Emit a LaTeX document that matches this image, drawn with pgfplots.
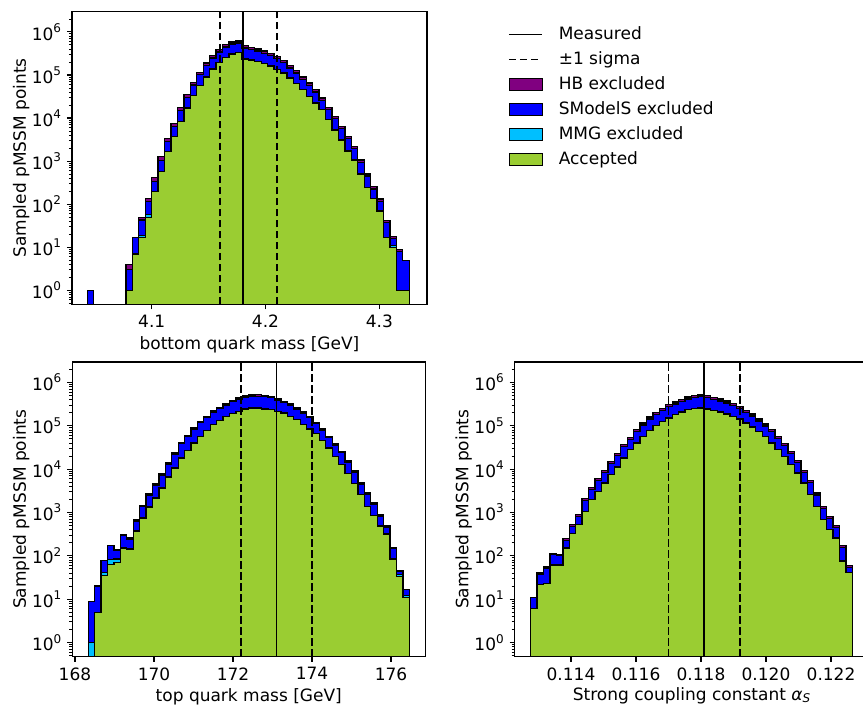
\documentclass[border=0pt]{standalone}
\usepackage{fontspec}
\setmainfont{DejaVu Sans}
\usepackage{pgfplots}
\usepackage{pgfplotstable}
\pgfplotsset{compat=1.18}

\definecolor{hbcol}{RGB}{128,0,128}
\definecolor{smcol}{RGB}{0,0,255}
\definecolor{mmgcol}{RGB}{0,191,255}
\definecolor{acccol}{RGB}{154,205,50}

\newcommand{\pw}[1]{10\raisebox{0.45em}{\fontsize{12}{14}\selectfont #1}}

% Histogram counts per bin (left bin edge x), split by category:
% G = accepted, M = MMG excluded, S = SModelS excluded, H = HB excluded.
% The last row repeats the final bin at its right edge.
\pgfplotstableread{
x G M S H
4.04340 0 0 1 0
4.04906 0 0 1 0
}\bottomlow

\pgfplotstableread{
x G M S H
4.07735 1 0 2 1
4.08301 7 0 10 0
4.08866 17 2 24 6
4.09432 49 9 56 22
4.09998 194 2 136 89
4.10564 568 4 452 246
4.11130 1660 8 1172 560
4.11695 3710 15 2615 1260
4.12261 8280 30 6390 2600
4.12827 17000 60 12940 4700
4.13393 32900 120 25280 8800
4.13959 56200 200 44600 14000
4.14524 89600 300 74100 26000
4.15090 138000 500 109500 33000
4.15656 196000 700 145300 45000
4.16222 256000 900 191100 58000
4.16788 307000 1000 217000 60000
4.17353 335000 1100 218900 62000
4.17919 235000 800 189200 55000
4.18485 223000 800 166200 48000
4.19051 203000 700 155300 43000
4.19617 183000 600 137400 40000
4.20182 161000 500 117500 34000
4.20748 133000 400 106600 30000
4.21314 111000 350 82650 24000
4.21880 84900 300 60800 18000
4.22446 62500 200 49300 14000
4.23011 45400 150 34150 9900
4.23577 31600 100 26100 7200
4.24143 22200 70 18130 5000
4.24709 15500 50 10250 3200
4.25275 9080 30 6790 2000
4.25840 5310 20 4270 1200
4.26406 3100 10 2530 700
4.26972 1720 6 1574 410
4.27538 1060 4 866 240
4.28104 502 3 435 120
4.28669 241 2 204 55
4.29235 136 1 89 28
4.29801 69 1 47 14
4.30367 17 0 20 4
4.30933 10 1 5 2
4.31498 1 0 7 1
4.32064 1 0 4 0
4.32630 1 0 4 0
}\bottomtab

\pgfplotstableread{
x G M S H
168.337 0 1 8 0
168.500 5 0 15 0
168.662 35 6 36 0
168.825 63 18 90 3
168.987 69 16 52 2
169.150 152 3 140 14
169.312 144 2 100 12
169.475 367 4 265 46
169.637 746 6 608 100
169.800 1320 10 1150 190
169.962 2140 15 2125 320
170.125 3670 25 3465 540
170.287 6600 40 6200 960
170.450 10600 60 11200 1640
170.612 18000 100 20200 2900
170.775 27000 150 28450 4200
170.937 40000 200 42100 6200
171.100 56600 300 60300 8800
171.262 76700 400 75400 11500
171.425 105000 500 101000 15500
171.587 132000 600 112900 18500
171.750 164000 700 133800 22500
171.912 189000 800 166400 26800
172.075 214000 900 189600 30500
172.237 243000 1000 213500 34500
172.400 256000 1000 225000 36000
172.563 256000 1000 224000 36000
172.725 243000 1000 220000 35000
172.888 234000 1000 205000 33000
173.050 214000 900 175100 29000
173.213 196000 800 140800 25400
173.375 164000 700 129200 22100
173.538 137000 600 100400 18000
173.700 105000 500 87000 14500
173.863 84000 400 68100 11500
174.025 65400 300 45000 8300
174.188 45800 200 32100 5900
174.350 30600 150 21850 4000
174.513 19600 100 15450 2650
174.675 12600 70 11130 1800
174.838 7800 50 6660 1090
175.000 4600 30 3930 640
175.163 2570 20 1870 340
175.325 1380 15 1225 200
175.488 844 20 680 116
175.650 479 15 334 62
175.813 308 15 139 35
175.975 82 3 61 11
176.138 34 3 7 2
176.300 11 1 5 0
176.463 11 1 5 0
}\toptab

\pgfplotstableread{
x G M S H
0.112760 6 0 5 0
0.112958 22 0 16 2
0.113156 23 0 28 4
0.113354 60 1 45 6
0.113552 60 1 40 5
0.113750 152 1 76 20
0.113947 324 2 157 40
0.114145 523 3 284 80
0.114343 1060 6 814 200
0.114541 1970 10 1450 370
0.114739 3060 15 2325 600
0.114937 4790 25 3485 900
0.115135 7430 40 6030 1500
0.115333 11200 60 9140 2200
0.115531 18000 100 14900 3700
0.115729 28000 150 20150 5400
0.115926 40000 200 32800 8000
0.116124 56600 300 46600 11500
0.116322 78000 400 63600 16000
0.116520 102000 500 79500 20000
0.116718 126000 600 94400 25000
0.116916 150000 700 123300 31000
0.117114 179000 800 137200 35000
0.117312 207000 900 150100 40000
0.117510 234000 1000 177000 46000
0.117708 250000 1000 203000 51000
0.117905 255000 1000 208000 51000
0.118103 243000 1000 199000 49000
0.118301 222000 900 181100 45000
0.118499 207000 900 163100 41000
0.118697 186000 800 147200 37000
0.118895 164000 700 124300 32000
0.119093 143000 600 107400 28000
0.119291 115000 500 87000 22500
0.119489 93300 400 73700 18600
0.119687 74000 300 54400 14300
0.119884 56600 250 42150 11000
0.120082 40000 200 32700 8100
0.120280 28000 150 22750 5700
0.120478 19600 100 14860 3840
0.120676 12600 70 10370 2560
0.120874 8130 40 6050 1580
0.121072 4790 25 3582 933
0.121270 2570 15 2284 541
0.121468 1380 10 1148 282
0.121666 682 5 555 138
0.121863 400 3 329 81
0.122061 258 2 195 50
0.122259 75 1 81 17
0.122457 42 0 12 5
0.122655 42 0 12 5
}\alphatab

\pgfplotsset{
  histlayer/.style={const plot, draw=black, line width=1.3pt, fill=#1, forget plot},
  vline/.style={black, line width=1.6pt, forget plot},
  lineleg/.style={legend image code/.code={\draw[##1] (0pt,0pt) -- (33pt,0pt);}},
  patchleg/.style={legend image code/.code={\draw[##1] (0pt,-6pt) rectangle (33pt,6pt);}},
}

% Four stacked layers, drawn from the cumulative total downwards
\newcommand{\stackhist}[1]{%
  \addplot[histlayer=hbcol] table[x=x, y expr=\thisrow{G}+\thisrow{M}+\thisrow{S}+\thisrow{H}]{#1} \closedcycle;
  \addplot[histlayer=smcol] table[x=x, y expr=\thisrow{G}+\thisrow{M}+\thisrow{S}]{#1} \closedcycle;
  \addplot[histlayer=mmgcol] table[x=x, y expr=\thisrow{G}+\thisrow{M}]{#1} \closedcycle;
  \addplot[histlayer=acccol] table[x=x, y=G]{#1} \closedcycle;
}
\newcommand{\stackhisttop}[1]{%
  \addplot[histlayer=hbcol] table[x=x, y expr=\thisrow{G}+\thisrow{M}+\thisrow{S}+\thisrow{H}]{#1} \closedcycle;
  \addplot[histlayer=smcol] table[x=x, y expr=\thisrow{G}+\thisrow{M}+\thisrow{S}]{#1} \closedcycle;
}

\begin{document}
\fontsize{17}{20}\selectfont
\begin{tikzpicture}
\useasboundingbox (0,0) rectangle (863pt,705pt);

% bottom quark mass
\begin{axis}[
  scale only axis, anchor=south west,
  at={(72pt,400.7pt)}, width=355pt, height=292.6pt,
  ymode=log, log origin y=infty,
  ymin=0.472, ymax=2.95e6,
  ytick={1,10,100,1000,10000,100000,1000000},
  yticklabels={\pw{0},\pw{1},\pw{2},\pw{3},\pw{4},\pw{5},\pw{6}},
  minor ytick={0.5,0.6,0.7,0.8,0.9,2,3,4,5,6,7,8,9,20,30,40,50,60,70,80,90,
    200,300,400,500,600,700,800,900,2000,3000,4000,5000,6000,7000,8000,9000,
    20000,30000,40000,50000,60000,70000,80000,90000,
    200000,300000,400000,500000,600000,700000,800000,900000,2000000},
  tick align=outside, tick pos=left,
  major tick length=5pt, minor tick length=3pt,
  major tick style={black, line width=1.1pt},
  minor tick style={black, line width=0.8pt},
  axis line style={black, line width=1.1pt},
  xmin=4.02996, xmax=4.3419,
  xtick={4.1,4.2,4.3},
  xticklabels={4.1,4.2,4.3},
  xlabel={bottom quark mass [GeV]},
  ylabel={Sampled pMSSM points},
  xlabel shift=-3pt, ylabel shift=-9pt,
  legend cell align=left,
  legend style={at={(1.2197,0.958)}, anchor=north west, draw=none, fill=none,
    row sep=8pt, column sep=16pt,
    nodes={inner sep=0pt, text height=13pt, text depth=4pt}},
]
\addlegendimage{lineleg, black, line width=1.6pt}
\addlegendentry{Measured}
\addlegendimage{lineleg, black, line width=1.6pt, dash pattern=on 7.5pt off 3.5pt}
\addlegendentry{±1 sigma}
\addlegendimage{patchleg, draw=black, line width=0.9pt, fill=hbcol}
\addlegendentry{HB excluded}
\addlegendimage{patchleg, draw=black, line width=0.9pt, fill=smcol}
\addlegendentry{SModelS excluded}
\addlegendimage{patchleg, draw=black, line width=0.9pt, fill=mmgcol}
\addlegendentry{MMG excluded}
\addlegendimage{patchleg, draw=black, line width=0.9pt, fill=acccol}
\addlegendentry{Accepted}
\stackhisttop{\bottomlow}
\stackhist{\bottomtab}
\addplot[vline] coordinates {(4.18,0.472) (4.18,2.95e6)};
\addplot[vline, dash pattern=on 7.5pt off 3.5pt] coordinates {(4.16,0.472) (4.16,2.95e6)};
\addplot[vline, dash pattern=on 7.5pt off 3.5pt] coordinates {(4.21,0.472) (4.21,2.95e6)};
\end{axis}

% top quark mass
\begin{axis}[
  scale only axis, anchor=south west,
  at={(72.2pt,48.3pt)}, width=353.2pt, height=294.7pt,
  ymode=log, log origin y=infty,
  ymin=0.472, ymax=2.95e6,
  ytick={1,10,100,1000,10000,100000,1000000},
  yticklabels={\pw{0},\pw{1},\pw{2},\pw{3},\pw{4},\pw{5},\pw{6}},
  minor ytick={0.5,0.6,0.7,0.8,0.9,2,3,4,5,6,7,8,9,20,30,40,50,60,70,80,90,
    200,300,400,500,600,700,800,900,2000,3000,4000,5000,6000,7000,8000,9000,
    20000,30000,40000,50000,60000,70000,80000,90000,
    200000,300000,400000,500000,600000,700000,800000,900000,2000000},
  tick align=outside, tick pos=left,
  major tick length=5pt, minor tick length=3pt,
  major tick style={black, line width=1.1pt},
  minor tick style={black, line width=0.8pt},
  axis line style={black, line width=1.1pt},
  xmin=167.93, xmax=176.87,
  xtick={168,170,172,174,176},
  xticklabels={168,170,172,174,176},
  xlabel={top quark mass [GeV]},
  ylabel={Sampled pMSSM points},
  xlabel shift=-3pt, ylabel shift=-9pt,
]
\stackhist{\toptab}
\addplot[vline] coordinates {(173.1,0.472) (173.1,2.95e6)};
\addplot[vline, dash pattern=on 7.5pt off 3.5pt] coordinates {(172.2,0.472) (172.2,2.95e6)};
\addplot[vline, dash pattern=on 7.5pt off 3.5pt] coordinates {(174.0,0.472) (174.0,2.95e6)};
\end{axis}

% strong coupling constant
\begin{axis}[
  scale only axis, anchor=south west,
  at={(514.6pt,48.3pt)}, width=353.8pt, height=294.7pt,
  ymode=log, log origin y=infty,
  ymin=0.472, ymax=2.95e6,
  ytick={1,10,100,1000,10000,100000,1000000},
  yticklabels={\pw{0},\pw{1},\pw{2},\pw{3},\pw{4},\pw{5},\pw{6}},
  minor ytick={0.5,0.6,0.7,0.8,0.9,2,3,4,5,6,7,8,9,20,30,40,50,60,70,80,90,
    200,300,400,500,600,700,800,900,2000,3000,4000,5000,6000,7000,8000,9000,
    20000,30000,40000,50000,60000,70000,80000,90000,
    200000,300000,400000,500000,600000,700000,800000,900000,2000000},
  tick align=outside, tick pos=left,
  major tick length=5pt, minor tick length=3pt,
  major tick style={black, line width=1.1pt},
  minor tick style={black, line width=0.8pt},
  axis line style={black, line width=1.1pt},
  xmin=0.112265, xmax=0.12315,
  xtick={0.114,0.116,0.118,0.120,0.122},
  xticklabels={0.114,0.116,0.118,0.120,0.122},
  xlabel={Strong coupling constant \textit{α}\raisebox{-0.12em}{\fontsize{12}{14}\selectfont\textit{S}}},
  ylabel={Sampled pMSSM points},
  xlabel shift=-4.5pt, ylabel shift=-9pt,
]
\stackhist{\alphatab}
\addplot[vline] coordinates {(0.1181,0.472) (0.1181,2.95e6)};
\addplot[vline, dash pattern=on 7.5pt off 3.5pt] coordinates {(0.117,0.472) (0.117,2.95e6)};
\addplot[vline, dash pattern=on 7.5pt off 3.5pt] coordinates {(0.1192,0.472) (0.1192,2.95e6)};
\end{axis}
\end{tikzpicture}
\end{document}
